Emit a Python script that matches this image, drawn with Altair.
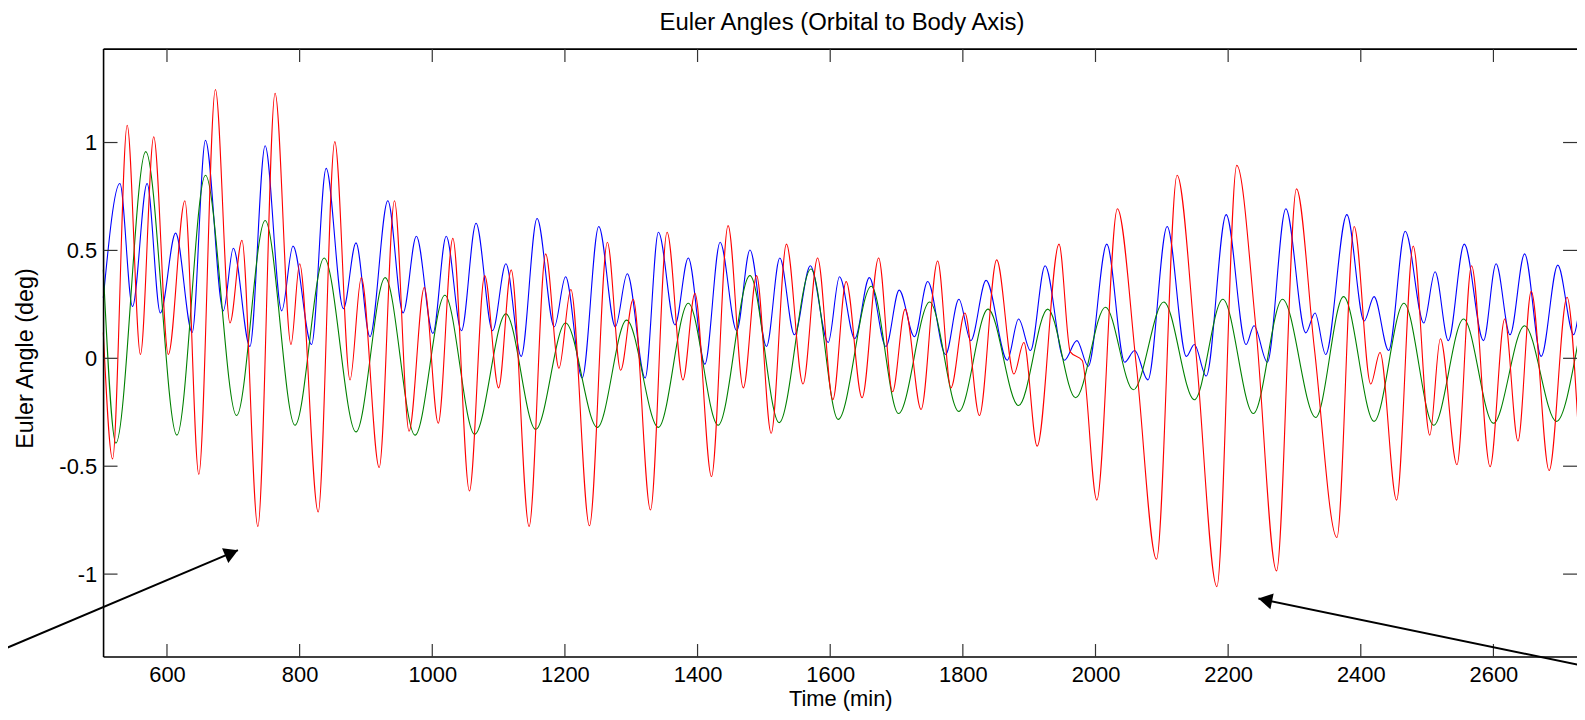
import altair as alt
import pandas as pd

FONT = "Liberation Sans"

# ---- data (time in min, angle in deg) ----
blue_t = [504, 529, 548, 570, 590, 613, 638, 658, 685, 700, 725, 748, 773, 790, 818, 840,
          866, 885, 906, 933, 956, 976, 1001, 1021, 1044, 1066, 1091, 1111, 1134, 1158, 1184, 1201,
          1226, 1251, 1276, 1294, 1321, 1341, 1366, 1386, 1411, 1434, 1459, 1479, 1504, 1524, 1546, 1570,
          1597, 1614, 1637, 1659, 1684, 1704, 1727, 1747, 1774, 1794, 1812, 1835, 1867, 1884, 1902, 1924,
          1953, 1972, 1989, 2017, 2044, 2059, 2079, 2108, 2137, 2149, 2167, 2197, 2227, 2239, 2259, 2287,
          2317, 2331, 2347, 2379, 2405, 2420, 2442, 2467, 2495, 2512, 2532, 2556, 2585, 2604, 2625, 2647,
          2672, 2697, 2721, 2727]
blue_v = [0.28, 0.81, 0.24, 0.81, 0.21, 0.58, 0.12, 1.01, 0.22, 0.51, 0.055, 0.985, 0.22, 0.52, 0.064, 0.88,
          0.23, 0.535, 0.10, 0.73, 0.21, 0.566, 0.115, 0.566, 0.128, 0.626, 0.128, 0.438, 0.009, 0.648, 0.146, 0.378,
          -0.091, 0.611, 0.146, 0.392, -0.091, 0.584, 0.155, 0.465, -0.027, 0.538, 0.128, 0.502, 0.055, 0.465, 0.109, 0.429,
          0.073, 0.378, 0.091, 0.374, 0.055, 0.316, 0.10, 0.356, 0.018, 0.274, 0.082, 0.361, -0.009, 0.182, 0.036, 0.429,
          -0.009, 0.082, -0.037, 0.529, -0.018, 0.036, -0.10, 0.611, 0.009, 0.064, -0.082, 0.666, 0.064, 0.151, -0.018, 0.693,
          0.118, 0.21, 0.018, 0.666, 0.173, 0.286, 0.036, 0.589, 0.164, 0.401, 0.082, 0.529, 0.082, 0.438, 0.109, 0.484,
          0.009, 0.432, 0.109, 0.18]

green_t = [504, 523, 568, 615, 658, 705, 748, 793, 837, 885, 929, 974, 1019, 1064, 1111, 1156, 1201,
           1249, 1293, 1341, 1386, 1431, 1479, 1523, 1571, 1612, 1662, 1703, 1750, 1794, 1838, 1884, 1928,
           1970, 2015, 2057, 2103, 2149, 2192, 2238, 2282, 2332, 2374, 2420, 2465, 2510, 2555, 2600, 2647,
           2695, 2727]
green_v = [0.41, -0.393, 0.958, -0.356, 0.848, -0.265, 0.639, -0.31, 0.465, -0.341, 0.374, -0.356, 0.292, -0.352, 0.206, -0.329, 0.164,
           -0.32, 0.177, -0.32, 0.255, -0.31, 0.383, -0.298, 0.414, -0.283, 0.334, -0.256, 0.261, -0.246, 0.228, -0.219, 0.228,
           -0.183, 0.237, -0.146, 0.261, -0.192, 0.274, -0.256, 0.274, -0.274, 0.286, -0.292, 0.255, -0.31, 0.182, -0.301, 0.151,
           -0.292, 0.064]

red_t = [504, 518, 540, 560, 580, 602, 627, 648, 673, 695, 713, 737, 763, 787, 800, 828, 853,
         876, 893, 920, 943, 965, 988, 1009, 1031, 1056, 1079, 1100, 1119, 1146, 1171, 1191, 1209,
         1237, 1264, 1284, 1303, 1329, 1354, 1378, 1396, 1421, 1446, 1469, 1489, 1511, 1534, 1559, 1581,
         1604, 1624, 1648, 1673, 1694, 1713, 1737, 1762, 1782, 1803, 1825, 1851, 1877, 1892, 1912, 1945,
         1962, 1980, 2002, 2033, 2062, 2092, 2123, 2152, 2183, 2213, 2242, 2273, 2303,
         2330, 2364, 2390, 2415, 2429, 2454, 2479, 2504, 2520, 2545, 2567, 2595, 2617, 2637, 2657,
         2684, 2711, 2727]
red_v = [0.12, -0.466, 1.08, 0.018, 1.027, 0.018, 0.73, -0.538, 1.246, 0.164, 0.547, -0.779, 1.228, 0.064, 0.438, -0.712, 1.004,
         -0.10, 0.374, -0.506, 0.73, -0.338, 0.328, -0.301, 0.556, -0.615, 0.383, -0.137, 0.41, -0.779, 0.484, -0.046, 0.319,
         -0.776, 0.538, -0.055, 0.274, -0.703, 0.584, -0.10, 0.301, -0.548, 0.615, -0.137, 0.383, -0.347, 0.529, -0.119, 0.465,
         -0.192, 0.356, -0.183, 0.465, -0.155, 0.228, -0.237, 0.451, -0.137, 0.21, -0.265, 0.456, -0.073, 0.073, -0.407, 0.529,
         0.03, -0.01, -0.657, 0.693, -0.046, -0.931, 0.848, 0.009, -1.058, 0.894, 0.137, -0.985, 0.785,
         0.046, -0.83, 0.611, -0.119, 0.027, -0.657, 0.52, -0.356, 0.091, -0.493, 0.429, -0.502, 0.182, -0.383, 0.31,
         -0.52, 0.283, -0.283]

x_ticks = [600, 800, 1000, 1200, 1400, 1600, 1800, 2000, 2200, 2400, 2600]
y_ticks = [-1, -0.5, 0, 0.5, 1]

# annotation arrows (data units)
arrow1_t = [348.3, 707.0]
arrow1_v = [-1.355, -0.889]
arrow2_t = [2245.6, 2727.4]
arrow2_v = [-1.113, -1.42]
head_t = [697.4, 2255.9]
head_v = [-0.902, -1.1195]
head_angle = [337.1, 191.7]

# ---- layout ----
W, H = 1480, 610.6
XDOM = [504.4, 2726.0]
YDOM = [-1.384, 1.433]
xscale = alt.Scale(domain=XDOM, nice=False, zero=False)
yscale = alt.Scale(domain=YDOM, nice=False, zero=False)

xaxis = alt.Axis(values=x_ticks, format="d", ticks=False, tickSize=0, domain=False, grid=False,
                 labelFont=FONT, labelFontSize=22, labelColor="black", labelPadding=7.2,
                 labelFlush=False, labelOverlap=False,
                 titleFont=FONT, titleFontSize=22, titleColor="black", titleFontWeight="normal",
                 titleX=740, titleY=49, titleBaseline="alphabetic", titleAlign="center")
yaxis = alt.Axis(values=y_ticks, labelExpr="'' + datum.value", ticks=False, tickSize=0, domain=False,
                 grid=False, labelFont=FONT, labelFontSize=22, labelColor="black", labelPadding=7,
                 labelFlush=False, labelOverlap=False,
                 titleFont=FONT, titleFontSize=23.5, titleColor="black", titleFontWeight="normal",
                 titleX=-71, titleY=310.3, titleAngle=270, titleBaseline="alphabetic", titleAlign="center")


def X():
    return alt.X("t:Q", scale=xscale, axis=xaxis, title="Time (min)")


def Y():
    return alt.Y("v:Q", scale=yscale, axis=yaxis, title="Euler Angle (deg)")


def series(t, v, color):
    df = pd.DataFrame({"t": t, "v": v})
    return alt.Chart(df).mark_line(color=color, strokeWidth=1.1, interpolate="monotone").encode(
        x=X(), y=Y())


blue = series(blue_t, blue_v, "#0000FF")
green = series(green_t, green_v, "#008000")
red = series(red_t, red_v, "#FF0000")

one = pd.DataFrame({"k": [0]})
frame_left = alt.Chart(one).mark_rule(color="black", strokeWidth=1.6).encode(
    x=alt.value(0), y=alt.value(0), y2=alt.value(H))
frame_top = alt.Chart(one).mark_rule(color="black", strokeWidth=1.6).encode(
    x=alt.value(0), x2=alt.value(W), y=alt.value(0))
frame_bottom = alt.Chart(one).mark_rule(color="black", strokeWidth=1.6).encode(
    x=alt.value(0), x2=alt.value(W), y=alt.value(H))

xt = pd.DataFrame({"t": x_ticks})
yt = pd.DataFrame({"v": y_ticks})
tick_style = dict(color="#333333", strokeWidth=1.2)
xtick_top = alt.Chart(xt).mark_rule(**tick_style).encode(
    x=X(), y=alt.value(0), y2=alt.value(13))
xtick_bot = alt.Chart(xt).mark_rule(**tick_style).encode(
    x=X(), y=alt.value(H), y2=alt.value(H - 13))
ytick_left = alt.Chart(yt).mark_rule(**tick_style).encode(
    y=Y(), x=alt.value(0), x2=alt.value(14))
ytick_right = alt.Chart(yt).mark_rule(**tick_style).encode(
    y=Y(), x=alt.value(W), x2=alt.value(W - 14))


def arrow_line(t, v):
    return alt.Chart(pd.DataFrame({"t": t, "v": v})).mark_line(
        color="black", strokeWidth=2, clip=False).encode(x=X(), y=Y())


arrow1 = arrow_line(arrow1_t, arrow1_v)
arrow2 = arrow_line(arrow2_t, arrow2_v)
heads = alt.Chart(pd.DataFrame({"t": head_t, "v": head_v, "a": head_angle})).mark_point(
    shape="triangle-right", filled=True, color="black", opacity=1, size=260, clip=False).encode(
    x=X(), y=Y(), angle=alt.Angle("a:Q", scale=None),
)

chart = alt.layer(
    blue, green, red,
    frame_left, frame_top, frame_bottom,
    xtick_top, xtick_bot, ytick_left, ytick_right,
    arrow1, arrow2, heads,
).properties(
    width=W, height=H,
    autosize=alt.AutoSizeParams(type="none"),
    padding={"left": 96, "top": 39.7, "right": 0, "bottom": 53.7},
    background="white",
    title=alt.Title("Euler Angles (Orbital to Body Axis)", font=FONT, fontSize=24,
                    fontWeight="normal", color="black", anchor="middle", frame="group",
                    baseline="alphabetic", offset=18.5, dx=1.7, dy=24.5),
).configure_view(stroke=None)

chart.save("out.html", embed_options={"renderer": "svg", "actions": False})
